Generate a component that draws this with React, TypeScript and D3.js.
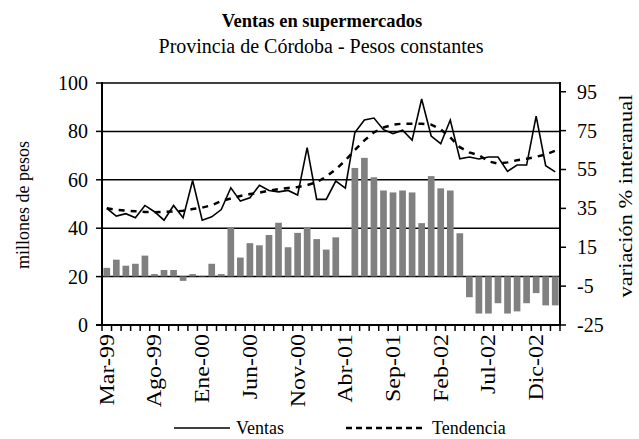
import React, { useEffect, useRef } from 'react';
import * as d3 from 'd3';

const months = [
  'Mar-99', 'Abr-99', 'May-99', 'Jun-99', 'Jul-99', 'Ago-99', 'Sep-99', 'Oct-99', 'Nov-99', 'Dic-99',
  'Ene-00', 'Feb-00', 'Mar-00', 'Abr-00', 'May-00', 'Jun-00', 'Jul-00', 'Ago-00', 'Sep-00', 'Oct-00', 'Nov-00', 'Dic-00',
  'Ene-01', 'Feb-01', 'Mar-01', 'Abr-01', 'May-01', 'Jun-01', 'Jul-01', 'Ago-01', 'Sep-01', 'Oct-01', 'Nov-01', 'Dic-01',
  'Ene-02', 'Feb-02', 'Mar-02', 'Abr-02', 'May-02', 'Jun-02', 'Jul-02', 'Ago-02', 'Sep-02', 'Oct-02', 'Nov-02', 'Dic-02',
  'Ene-03', 'Feb-03',
];

// millones de pesos (eje izquierdo)
const ventas = [
  48.2, 45.0, 46.0, 44.3, 49.4, 46.8, 43.3, 49.4, 44.3, 59.7,
  43.3, 44.7, 47.7, 56.7, 51.2, 52.6, 57.7, 55.6, 55.0, 55.6, 53.7, 73.3,
  51.9, 51.9, 59.5, 56.6, 79.5, 84.7, 85.5, 80.7, 79.1, 80.5, 76.4, 93.4,
  78.1, 74.9, 84.7, 68.7, 69.4, 68.6, 69.4, 69.4, 63.5, 66.1, 66.1, 86.3,
  65.8, 63.3,
];

const tendencia = [
  48.2, 47.6, 47.3, 47.0, 46.7, 46.6, 46.7, 46.9, 47.2, 47.9,
  48.5, 49.5, 51.2, 52.3, 53.3, 54.1, 54.7, 55.5, 56.1, 56.6, 57.0, 57.8,
  59.0, 61.3, 64.3, 68.0, 72.3, 76.3, 79.6, 81.6, 82.8, 83.2, 83.2, 83.2,
  82.8, 80.8, 77.5, 73.5, 71.3, 70.2, 67.6, 66.7, 67.2, 68.1, 68.7, 69.5,
  70.5, 72.0,
];

// variación % interanual (eje derecho)
const variacion: (number | null)[] = [
  4.4, 8.6, 5.5, 6.5, 10.7, 1.2, 3.3, 3.3, -2.3, 1.2,
  0.2, 6.5, 1.2, 25.0, 9.7, 17.1, 16.0, 21.3, 27.6, 15.0, 22.4, 25.0,
  19.2, 13.8, 20.1, null, 55.8, 61.0, 51.0, 44.2, 43.2, 44.2, 43.2, 27.4,
  51.6, 45.3, 44.2, 22.2, -10.7, -19.1, -19.1, -13.8, -19.1, -18.0, -13.8, -8.6,
  -14.9, -14.9,
];

const leftTicks = [0, 20, 40, 60, 80, 100];
const rightTicks = [-25, -5, 15, 35, 55, 75, 95];
const gridValues = [20, 40, 60, 80, 100];

const W = 639;
const H = 439;
const FONT = '"Liberation Serif", "Times New Roman", serif';

const App: React.FC = () => {
  const ref = useRef<SVGSVGElement | null>(null);

  useEffect(() => {
    const svg = d3.select(ref.current);
    svg.selectAll('*').remove();

    const left = 102, right = 560, top = 83, bottom = 325;

    const x = d3.scaleBand<string>().domain(months).range([left, right]).padding(0);
    const bw = x.bandwidth();
    const yL = d3.scaleLinear().domain([0, 100]).range([bottom, top]);
    const yR = d3.scaleLinear().domain([-25, 99.5]).range([bottom, top]);

    // gridlines
    svg.append('g')
      .selectAll('line')
      .data(gridValues)
      .enter()
      .append('line')
      .attr('x1', left)
      .attr('x2', right)
      .attr('y1', (d) => yL(d))
      .attr('y2', (d) => yL(d))
      .attr('stroke', '#000')
      .attr('stroke-width', 1.5);

    // barras
    svg.append('g')
      .selectAll('rect')
      .data(months.map((m, i) => ({ m, v: variacion[i] })).filter((d) => d.v !== null))
      .enter()
      .append('rect')
      .attr('x', (d) => (x(d.m) ?? 0) + bw * 0.15)
      .attr('width', bw * 0.7)
      .attr('y', (d) => yR(Math.max(0, d.v as number)))
      .attr('height', (d) => Math.abs(yR(d.v as number) - yR(0)))
      .attr('fill', '#808080');

    const cx = (m: string) => (x(m) ?? 0) + bw / 2;

    const line = d3.line<number>()
      .x((_, i) => cx(months[i]))
      .y((d) => yL(d));

    svg.append('path')
      .datum(tendencia)
      .attr('d', line)
      .attr('fill', 'none')
      .attr('stroke', '#000')
      .attr('stroke-width', 2.5)
      .attr('stroke-dasharray', '6,6');

    svg.append('path')
      .datum(ventas)
      .attr('d', line)
      .attr('fill', 'none')
      .attr('stroke', '#000')
      .attr('stroke-width', 1.6)
      .attr('stroke-linejoin', 'miter');

    // ejes
    const axes = svg.append('g').attr('stroke', '#000').attr('stroke-width', 2);
    axes.append('line').attr('x1', left).attr('x2', left).attr('y1', top - 1).attr('y2', bottom + 1);
    axes.append('line').attr('x1', right).attr('x2', right).attr('y1', top - 1).attr('y2', bottom + 1);
    axes.append('line').attr('x1', left - 6).attr('x2', right + 1).attr('y1', bottom).attr('y2', bottom);

    // ticks eje x (límites de categoría)
    const bounds = months.map((m) => x(m) ?? 0).concat([right]);
    svg.append('g')
      .selectAll('line')
      .data(bounds)
      .enter()
      .append('line')
      .attr('x1', (d) => d)
      .attr('x2', (d) => d)
      .attr('y1', bottom)
      .attr('y2', bottom + 6)
      .attr('stroke', '#000')
      .attr('stroke-width', 1.5);

    // eje izquierdo
    const lt = svg.append('g');
    lt.selectAll('line')
      .data(leftTicks)
      .enter()
      .append('line')
      .attr('x1', left - 6)
      .attr('x2', left)
      .attr('y1', (d) => yL(d))
      .attr('y2', (d) => yL(d))
      .attr('stroke', '#000')
      .attr('stroke-width', 1.5);
    lt.selectAll('text')
      .data(leftTicks)
      .enter()
      .append('text')
      .attr('x', left - 14)
      .attr('y', (d) => yL(d))
      .attr('dy', '0.35em')
      .attr('text-anchor', 'end')
      .attr('font-family', FONT)
      .attr('font-size', 20)
      .text((d) => d);

    // eje derecho
    const rt = svg.append('g');
    rt.selectAll('line')
      .data(rightTicks)
      .enter()
      .append('line')
      .attr('x1', right)
      .attr('x2', right + 6)
      .attr('y1', (d) => yR(d))
      .attr('y2', (d) => yR(d))
      .attr('stroke', '#000')
      .attr('stroke-width', 1.5);
    rt.selectAll('text')
      .data(rightTicks)
      .enter()
      .append('text')
      .attr('x', right + 17)
      .attr('y', (d) => yR(d))
      .attr('dy', '0.35em')
      .attr('font-family', FONT)
      .attr('font-size', 20)
      .text((d) => d);

    // etiquetas eje x
    svg.append('g')
      .selectAll('text')
      .data(months.filter((_, i) => i % 5 === 0))
      .enter()
      .append('text')
      .attr('transform', (d) => `translate(${cx(d)},${bottom + 9}) rotate(-90) scale(1.2,1)`)
      .attr('dy', '0.35em')
      .attr('text-anchor', 'end')
      .attr('font-family', FONT)
      .attr('font-size', 20)
      .text((d) => d);

    // títulos
    svg.append('text')
      .attr('x', 322)
      .attr('y', 27)
      .attr('text-anchor', 'middle')
      .attr('font-family', FONT)
      .attr('font-weight', 'bold')
      .attr('font-size', 18.5)
      .text('Ventas en supermercados');
    svg.append('text')
      .attr('x', 321)
      .attr('y', 53)
      .attr('text-anchor', 'middle')
      .attr('font-family', FONT)
      .attr('font-size', 20)
      .text('Provincia de Córdoba - Pesos constantes');

    svg.append('text')
      .attr('transform', `translate(23,205) rotate(-90)`)
      .attr('dy', '0.35em')
      .attr('text-anchor', 'middle')
      .attr('font-family', FONT)
      .attr('font-size', 18)
      .text('millones de pesos');
    svg.append('text')
      .attr('transform', `translate(625,196) rotate(-90) scale(1.15,1)`)
      .attr('dy', '0.35em')
      .attr('text-anchor', 'middle')
      .attr('font-family', FONT)
      .attr('font-size', 19.5)
      .text('variación % interanual');

    // leyenda
    const lg = svg.append('g');
    lg.append('line')
      .attr('x1', 174).attr('x2', 230).attr('y1', 428).attr('y2', 428)
      .attr('stroke', '#000').attr('stroke-width', 1.6);
    lg.append('text')
      .attr('x', 236).attr('y', 428).attr('dy', '0.35em')
      .attr('font-family', FONT).attr('font-size', 18)
      .text('Ventas');
    lg.append('line')
      .attr('x1', 346).attr('x2', 424).attr('y1', 428).attr('y2', 428)
      .attr('stroke', '#000').attr('stroke-width', 2.5).attr('stroke-dasharray', '6,4');
    lg.append('text')
      .attr('x', 432).attr('y', 428).attr('dy', '0.35em')
      .attr('font-family', FONT).attr('font-size', 18)
      .text('Tendencia');
  }, []);

  return (
    <svg
      ref={ref}
      width={W}
      height={H}
      style={{ position: 'absolute', left: 0, top: 0, background: '#fff' }}
    />
  );
};

export default App;
